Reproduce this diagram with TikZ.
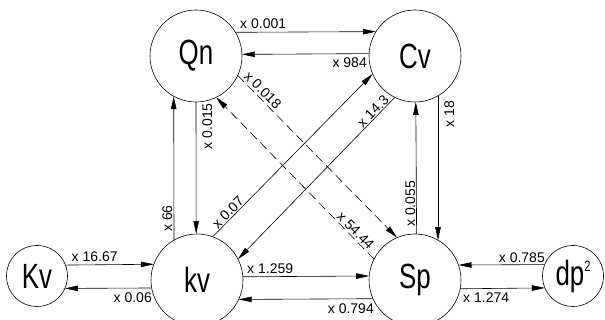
\documentclass[tikz,border=0pt]{standalone}
\usepackage{fontspec}
\setmainfont{Liberation Sans}
\newfontfamily\nodefont{Liberation Sans}[FakeStretch=0.74]
\usetikzlibrary{arrows.meta}
\begin{document}
\begin{tikzpicture}[x=1pt,y=-1pt,
  big/.style={circle, draw, line width=0.6pt, minimum size=92pt, inner sep=0pt, outer sep=0pt, font=\nodefont\fontsize{35}{35}\selectfont},
  small/.style={big, minimum size=61pt},
  arr/.style={line width=0.6pt, -{Triangle[length=13pt,width=5.5pt]}},
  dsh/.style={dash pattern=on 9pt off 5pt},
  lbl/.style={inner sep=0pt, font=\fontsize{14}{14}\selectfont},
]
\useasboundingbox (0,0) rectangle (605,320);
% nodes
\node[big] (Qn) at (196,56) {Qn};
\node[big] (Cv) at (415,56) {Cv};
\node[big] (kv) at (197,280) {kv};
\node[big] (Sp) at (415,280) {Sp};
\node[small] (Kv) at (37,276) {Kv};
\node[small] (dp) at (573,276) {dp\raisebox{14pt}{\fontsize{15}{15}\selectfont 2}};
% horizontal connectors
\draw[arr] (Qn.31.45) -- (Cv.148.55);
\draw[arr] (Cv.177.51) -- (Qn.2.49);
\draw[arr] (Kv.21.14) -- (kv.160.97);
\draw[arr] (kv.190.02) -- (Kv.336.83);
\draw[arr] (kv.4.99) -- (Sp.175.01);
\draw[arr] (Sp.204.4) -- (kv.335.6);
\draw[arr] (dp.158.86) -- (Sp.19.03);
\draw[arr] (Sp.349.98) -- (dp.203.17);
% vertical connectors
\draw[arr] (kv.120) -- (Qn.241.43);
\draw[arr] (Qn.270) -- (kv.91.25);
\draw[arr] (Sp.88.75) -- (Cv.271.25);
\draw[arr] (Cv.300) -- (Sp.60);
% diagonal connectors
\draw[arr] (kv.70) -- (Cv.203);
\draw[arr] (Cv.244.5) -- (kv.27);
\draw[arr,dsh] (Qn.335.6) -- (Sp.113.5);
\draw[arr,dsh] (Sp.153) -- (Qn.296);
% labels
\node[lbl, anchor=base west] (l1) at (240,28.5) {x 0.001};
\node[lbl, anchor=base east] (l2) at (367,68) {x 984};
\node[lbl, anchor=base west] (l3) at (71.5,262) {x 16.67};
\node[lbl, anchor=base east] (l4) at (152,302.5) {x 0.06};
\node[lbl, anchor=base west] (l5) at (247,273.5) {x 1.259};
\node[lbl, anchor=base east] (l6) at (374,313) {x 0.794};
\node[lbl, anchor=base east] (l7) at (545,262.5) {x 0.785};
\node[lbl, anchor=base west] (l8) at (463,302.5) {x 1.274};
\node[lbl, rotate=90, anchor=base west] (l9) at (172,232) {x 66};
\node[lbl, rotate=90, anchor=base east] (l10) at (212,103) {x 0.015};
\node[lbl, rotate=90, anchor=base west] (l11) at (415,227) {x 0.055};
\node[lbl, rotate=90, anchor=base east] (l12) at (454,101) {x 18};
\node[lbl, rotate=45.5, anchor=base west] (l13) at (217.9,229.3) {x 0.07};
\node[lbl, rotate=45.5, anchor=base east] (l14) at (389.9,100.8) {x 14.3};
\node[lbl, rotate=-45.5, anchor=base west] (l15) at (243.2,76.9) {x 0.018};
\node[lbl, rotate=-45.5, anchor=base east] (l16) at (368.4,250.5) {x 54.44};
\end{tikzpicture}
\end{document}
